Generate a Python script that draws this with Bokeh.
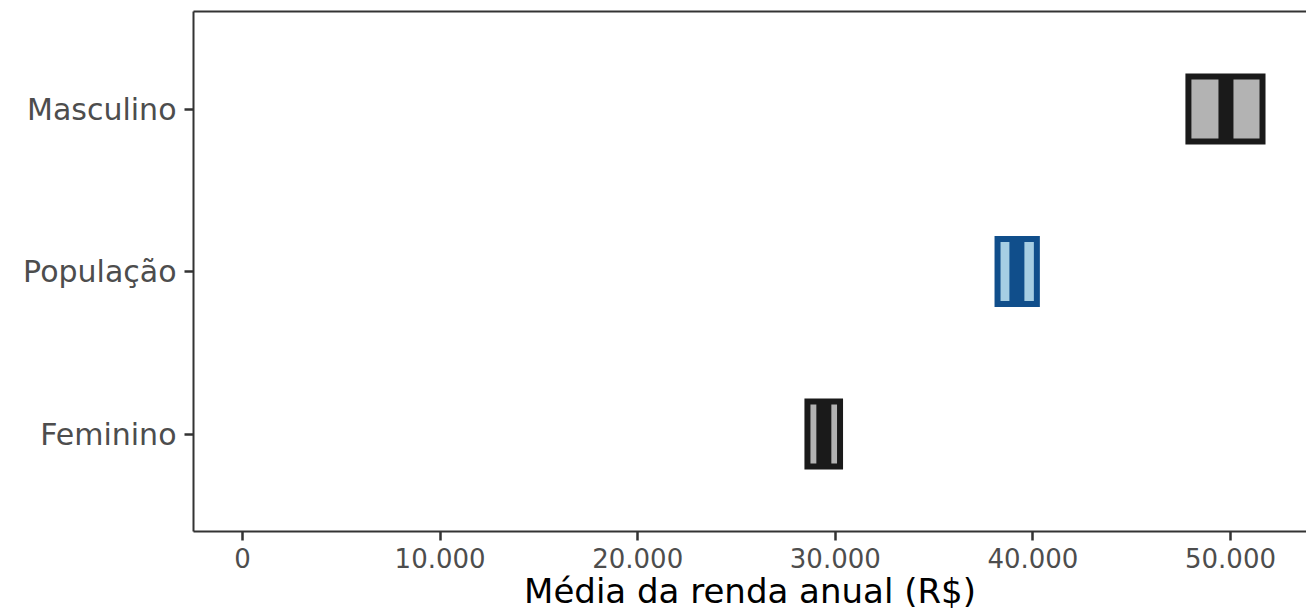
from bokeh.plotting import figure
from bokeh.models import FactorRange, Range1d, FixedTicker, LinearAxis, ColumnDataSource
from bokeh.embed import file_html
from bokeh.resources import INLINE

# ---- data ----
categories = ["Feminino", "População", "Masculino"]
mean_income = [29420, 39190, 49770]
ci_low = [28590, 38210, 47870]
ci_high = [30240, 40200, 51620]
fill_colors = ["#b3b3b3", "#a6cee3", "#b3b3b3"]
edge_colors = ["#1a1a1a", "#104e8b", "#1a1a1a"]
x_ticks = [0, 10000, 20000, 30000, 40000, 50000]
x_tick_labels = ["0", "10.000", "20.000", "30.000", "40.000", "50.000"]
x_title = "Média da renda anual (R$)"

FONT = "DejaVu Sans"

src = ColumnDataSource(dict(cat=categories, mean=mean_income, lo=ci_low, hi=ci_high,
                            fill=fill_colors, edge=edge_colors))

p = figure(width=1306, height=616,
           y_range=FactorRange(*categories, range_padding=0.1, range_padding_units="absolute"),
           x_range=Range1d(-2480, 53846),
           output_backend="svg", toolbar_location=None,
           min_border_left=193, min_border_right=0, min_border_top=11, min_border_bottom=85)

p.hbar(y="cat", left="lo", right="hi", height=0.4, fill_color="fill", line_color="edge",
       line_width=6, line_join="miter", source=src)
p.rect(x="mean", y="cat", width=15, width_units="screen", height=0.4,
       fill_color="edge", line_color=None, source=src)

p.outline_line_color = None
p.xgrid.visible = False
p.ygrid.visible = False
p.background_fill_color = "white"
p.border_fill_color = "white"

for ax in (p.xaxis[0], p.yaxis[0]):
    ax.axis_line_color = "#333333"
    ax.axis_line_width = 2
    ax.major_tick_line_color = "#333333"
    ax.major_tick_line_width = 2.5
    ax.major_tick_out = 9
    ax.major_tick_in = 0
    ax.minor_tick_line_color = None
    ax.major_label_text_color = "#4d4d4d"
    ax.major_label_text_font = FONT
    ax.major_label_standoff = 8

p.xaxis.ticker = FixedTicker(ticks=x_ticks)
p.xaxis.major_label_overrides = dict(zip(x_ticks, x_tick_labels))
p.xaxis.major_label_text_font_size = "26px"
p.xaxis.major_label_standoff = 7
p.xaxis.axis_label = x_title
p.xaxis.axis_label_text_font = FONT
p.xaxis.axis_label_text_font_size = "34px"
p.xaxis.axis_label_text_font_style = "normal"
p.xaxis.axis_label_text_color = "black"
p.xaxis.axis_label_standoff = 0

p.yaxis.major_label_text_font_size = "30px"

top = LinearAxis(ticker=FixedTicker(ticks=[]), axis_line_color="#333333", axis_line_width=2,
                 major_tick_out=0, major_tick_in=0, minor_tick_out=0, minor_tick_in=0,
                 major_label_text_font_size="0px", major_label_standoff=0)
p.add_layout(top, "above")

open("out.html", "w").write(file_html(p, INLINE))
